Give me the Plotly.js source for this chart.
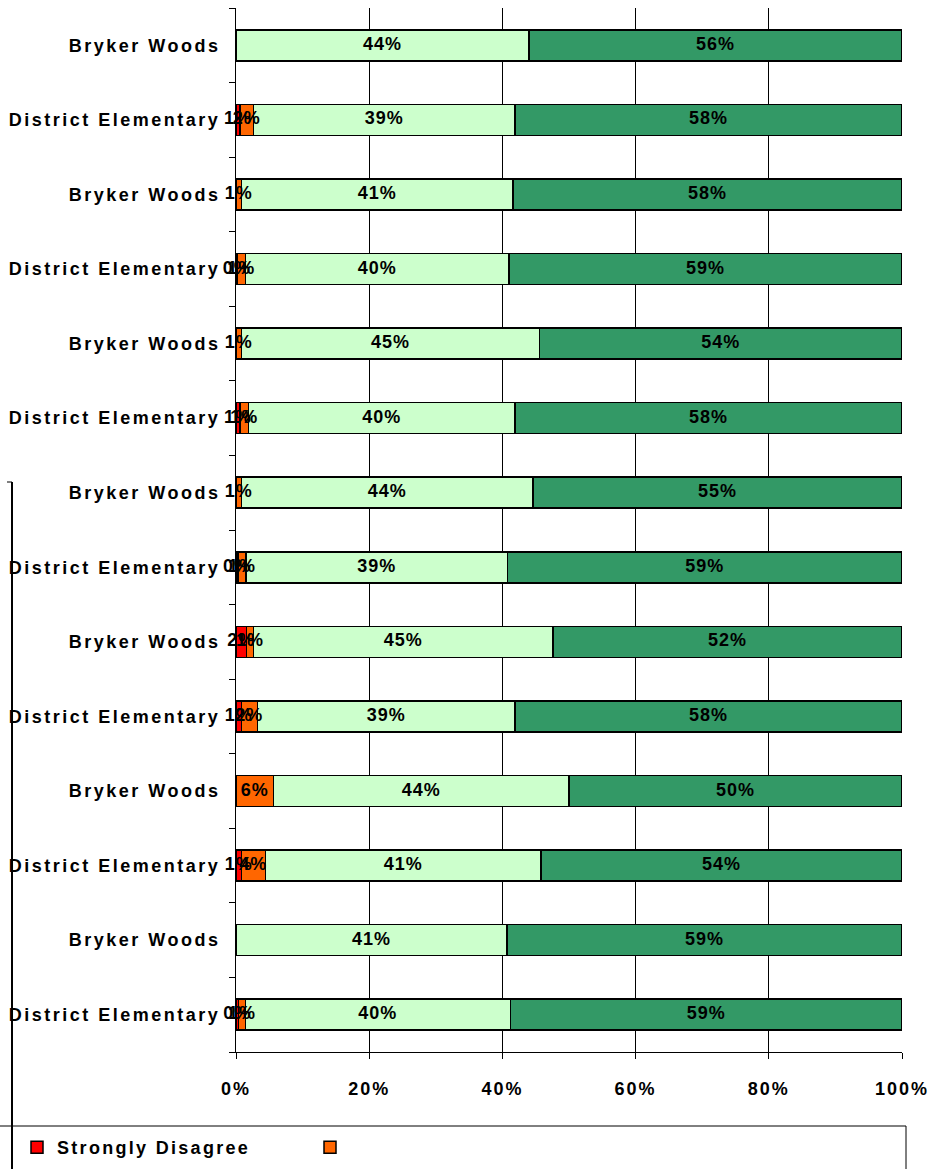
<!DOCTYPE html>
<html>
<head>
<meta charset="utf-8">
<script src="https://cdn.plot.ly/plotly-3.0.1.min.js"></script>
<style>
  html, body { margin: 0; padding: 0; background: #ffffff; }
  #chart { width: 938px; height: 1169px; }
  #chart .ytick text { letter-spacing: 2.5px; }
  #chart .xtick text { letter-spacing: 2px; }
  #chart .legendtext { letter-spacing: 2.3px; }
  #chart .textpoint text { letter-spacing: 1px; }
</style>
</head>
<body>
<div id="chart"></div>
<script>
// ---- data (top row first) ----
var categories = [
  'Bryker Woods', 'District Elementary', 'Bryker Woods', 'District Elementary',
  'Bryker Woods', 'District Elementary', 'Bryker Woods', 'District Elementary',
  'Bryker Woods', 'District Elementary', 'Bryker Woods', 'District Elementary',
  'Bryker Woods', 'District Elementary'
];
var stronglyDisagree = [0, 0.6, 0, 0.2, 0, 0.6, 0, 0.3, 1.6, 0.8, 0, 0.8, 0, 0.4];
var disagree         = [0, 2.0, 0.8, 1.2, 0.8, 1.3, 0.8, 1.2, 1.0, 2.4, 5.6, 3.6, 0, 1.0];
var agree            = [44.0, 39.3, 40.8, 39.6, 44.8, 40.0, 43.8, 39.3, 45.0, 38.7, 44.4, 41.4, 40.7, 39.8];
var stronglyAgree    = [56.0, 58.1, 58.4, 59.0, 54.4, 58.1, 55.4, 59.2, 52.4, 58.1, 50.0, 54.2, 59.3, 58.8];
var seriesNames = ['Strongly Disagree', '', 'Agree', 'Strongly Agree'];
var xTickVals = [0, 20, 40, 60, 80, 100];
var xTickText = ['0%', '20%', '40%', '60%', '80%', '100%'];

// ---- build ----
var W = 938, H = 1169;
var M = {l: 236, r: 36, t: 8, b: 117};
var plotW = W - M.l - M.r, plotH = H - M.t - M.b;
function px2x(px) { return (px - M.l) / plotW; }
function px2y(py) { return (H - M.b - py) / plotH; }

var rowIdx = categories.map(function (c, i) { return i; });
function labels(arr) { return arr.map(function (v) { return v > 0 ? Math.round(v) + '%' : ''; }); }

var FONT = 'Liberation Sans, Arial, sans-serif';
var colors = ['#FF0000', '#FF6600', '#CCFFCC', '#339966'];
var seriesVals = [stronglyDisagree, disagree, agree, stronglyAgree];
// the lower legend row lies below the visible page edge
var legendOf = ['legend', 'legend', 'legend2', 'legend2'];

var traces = [];
// stacked bars
seriesVals.forEach(function (vals, k) {
  traces.push({
    type: 'bar',
    orientation: 'h',
    name: seriesNames[k],
    legend: legendOf[k],
    x: vals,
    y: rowIdx,
    marker: {color: colors[k], line: {color: '#000000', width: 1.5}},
    showlegend: true,
    hoverinfo: 'x+name'
  });
});
// segment labels, drawn above all bars, centred on each stacked segment
var cum = rowIdx.map(function () { return 0; });
seriesVals.forEach(function (vals, k) {
  var mids = vals.map(function (v, i) { var m = cum[i] + v / 2; cum[i] += v; return m; });
  traces.push({
    type: 'scatter',
    mode: 'text',
    x: mids,
    y: rowIdx,
    text: labels(vals),
    textposition: 'middle center',
    cliponaxis: false,
    textfont: {family: FONT, size: 18, color: '#000000', weight: 'bold'},
    showlegend: false,
    hoverinfo: 'skip'
  });
});

var legendFont = {family: FONT, size: 18, color: '#000000', weight: 'bold'};
var layout = {
  width: W, height: H,
  margin: {l: M.l, r: M.r, t: M.t, b: M.b, autoexpand: false},
  paper_bgcolor: '#ffffff',
  plot_bgcolor: '#ffffff',
  barmode: 'stack',
  bargap: 0.584,
  font: {family: FONT, size: 18, color: '#000000', weight: 'bold'},
  xaxis: {
    range: [0, 100],
    tickvals: xTickVals,
    ticktext: xTickText,
    showgrid: true, gridcolor: '#000000', gridwidth: 1,
    showline: true, linecolor: '#000000', linewidth: 1,
    zeroline: false,
    ticks: 'outside', ticklen: 6, tickcolor: '#000000',
    ticklabelstandoff: 14,
    tickfont: {family: FONT, size: 18, color: '#000000', weight: 'bold'},
    fixedrange: true
  },
  yaxis: {
    range: [13.5, -0.5],
    tickvals: rowIdx,
    ticktext: categories,
    ticks: '',
    showgrid: false,
    showline: true, linecolor: '#000000', linewidth: 1,
    zeroline: false,
    ticklabelstandoff: 11,
    minor: {tick0: -0.5, dtick: 1, ticks: 'outside', ticklen: 6, tickcolor: '#000000', showgrid: false},
    tickfont: {family: FONT, size: 18, color: '#000000', weight: 'bold'},
    fixedrange: true
  },
  showlegend: true,
  legend: {
    orientation: 'h',
    traceorder: 'normal',
    xanchor: 'left', x: px2x(17),
    yanchor: 'top', y: px2y(1129),
    entrywidth: 248,
    entrywidthmode: 'pixels',
    bgcolor: 'rgba(0,0,0,0)',
    borderwidth: 0,
    font: legendFont
  },
  legend2: {
    orientation: 'h',
    traceorder: 'normal',
    xanchor: 'left', x: px2x(17),
    yanchor: 'top', y: px2y(1200),
    entrywidth: 248,
    entrywidthmode: 'pixels',
    bgcolor: 'rgba(0,0,0,0)',
    borderwidth: 0,
    font: legendFont
  },
  shapes: [
    // outer bracket line on the left
    {type: 'line', xref: 'paper', yref: 'paper', x0: px2x(12), x1: px2x(12), y0: px2y(482), y1: px2y(1175),
     line: {color: '#000000', width: 2}},
    {type: 'line', xref: 'paper', yref: 'paper', x0: px2x(7), x1: px2x(12), y0: px2y(482), y1: px2y(482),
     line: {color: '#000000', width: 1}},
    // legend frame
    {type: 'rect', xref: 'paper', yref: 'paper', x0: px2x(-5), x1: px2x(906), y0: px2y(1126), y1: px2y(1180),
     line: {color: '#000000', width: 1}, fillcolor: 'rgba(0,0,0,0)'}
  ]
};

Plotly.newPlot('chart', traces, layout, {displayModeBar: false, staticPlot: true});
</script>
</body>
</html>
